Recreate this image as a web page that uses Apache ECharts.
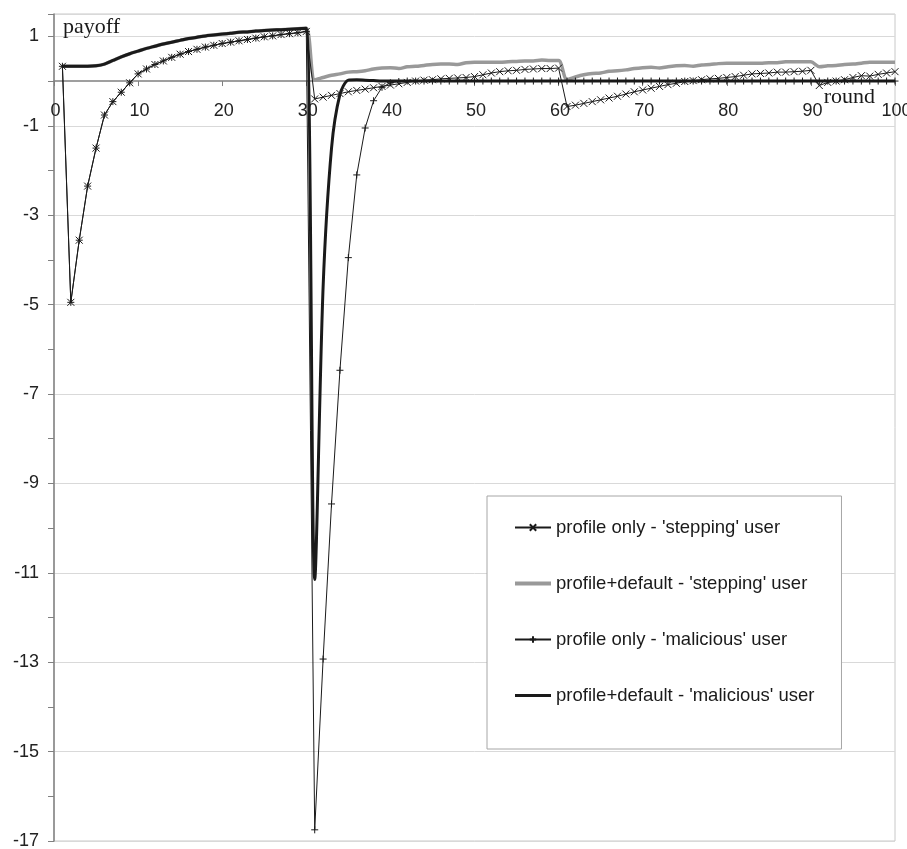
<!DOCTYPE html>
<html>
<head>
<meta charset="utf-8">
<title>payoff per round</title>
<script src="https://cdn.jsdelivr.net/npm/echarts@6/dist/echarts.min.js"></script>
<style>
  html, body { margin: 0; padding: 0; background: #fff; }
  #chart { width: 907px; height: 849px; }
</style>
</head>
<body>
<div id="chart"></div>
<script>
// Rounds 1..100 on the horizontal axis
const rounds = Array.from({ length: 100 }, (_, i) => i + 1);

// Rounds 1-30: both users behave identically
const profileOnlyFirst30 = [
  0.33, -4.95, -3.56, -2.35, -1.5, -0.76, -0.46, -0.25, -0.04, 0.16,
  0.27, 0.37, 0.45, 0.53, 0.6, 0.66, 0.71, 0.76, 0.8, 0.84,
  0.87, 0.9, 0.93, 0.96, 0.99, 1.01, 1.04, 1.06, 1.08, 1.11
];
const profileDefaultFirst30 = [
  0.33, 0.33, 0.33, 0.33, 0.34, 0.38, 0.46, 0.54, 0.61, 0.67,
  0.73, 0.78, 0.83, 0.87, 0.91, 0.95, 0.98, 1.01, 1.03, 1.05,
  1.07, 1.09, 1.1, 1.12, 1.13, 1.14, 1.15, 1.16, 1.17, 1.18
];

// Rounds 31-100, 'stepping' user, profile only
const steppingProfileOnlyRest = [
  -0.4, -0.36, -0.32, -0.28, -0.24, -0.21, -0.18, -0.15, -0.12, -0.09,
  -0.06, -0.03, 0.0, 0.02, 0.03, 0.05, 0.06, 0.07, 0.08, 0.1,
  0.14, 0.18, 0.21, 0.23, 0.24, 0.26, 0.27, 0.28, 0.28, 0.29,
  -0.57, -0.54, -0.5, -0.46, -0.42, -0.38, -0.34, -0.29, -0.24, -0.2,
  -0.16, -0.12, -0.08, -0.05, -0.01, 0.01, 0.03, 0.05, 0.06, 0.08,
  0.1, 0.13, 0.16, 0.17, 0.18, 0.2, 0.2, 0.21, 0.22, 0.24,
  -0.1, -0.03, 0.0, 0.03, 0.08, 0.12, 0.11, 0.15, 0.18, 0.21
];

// Rounds 31-100, 'stepping' user, profile + default
const steppingProfileDefaultRest = [
  0.03, 0.08, 0.13, 0.16, 0.2, 0.21, 0.23, 0.27, 0.29, 0.3,
  0.28, 0.32, 0.33, 0.35, 0.37, 0.38, 0.38, 0.37, 0.41, 0.42,
  0.42, 0.42, 0.42, 0.43, 0.44, 0.45, 0.45, 0.47, 0.46, 0.46,
  0.03, 0.09, 0.14, 0.17, 0.18, 0.22, 0.23, 0.25, 0.28, 0.3,
  0.31, 0.29, 0.32, 0.34, 0.35, 0.33, 0.36, 0.37, 0.39, 0.4,
  0.4, 0.4, 0.4, 0.4, 0.41, 0.41, 0.43, 0.43, 0.43, 0.43,
  0.32, 0.34, 0.35, 0.37, 0.38, 0.4, 0.42, 0.42, 0.42, 0.42
];

// Rounds 31-100, 'malicious' user, profile only
const maliciousProfileOnlyRest = [
  -16.75, -12.93, -9.46, -6.47, -3.95, -2.1, -1.05, -0.44, -0.14, -0.04,
  -0.01, 0, 0, 0, 0, 0, 0, 0, 0, 0,
  0, 0, 0, 0, 0, 0, 0, 0, 0, 0,
  0, 0, 0, 0, 0, 0, 0, 0, 0, 0,
  0, 0, 0, 0, 0, 0, 0, 0, 0, 0,
  0, 0, 0, 0, 0, 0, 0, 0, 0, 0,
  0, 0, 0, 0, 0, 0, 0, 0, 0, 0
];

// Rounds 31-100, 'malicious' user, profile + default
const maliciousProfileDefaultRest = [
  -11.15, -4.6, -1.5, -0.3, 0.02, 0.03, 0.02, 0.01, 0, 0,
  0, 0, 0, 0, 0, 0, 0, 0, 0, 0,
  0, 0, 0, 0, 0, 0, 0, 0, 0, 0,
  0, 0, 0, 0, 0, 0, 0, 0, 0, 0,
  0, 0, 0, 0, 0, 0, 0, 0, 0, 0,
  0, 0, 0, 0, 0, 0, 0, 0, 0, 0,
  0, 0, 0, 0, 0, 0, 0, 0, 0, 0
];

const seriesNames = [
  "profile only - 'stepping' user",
  "profile+default - 'stepping' user",
  "profile only - 'malicious' user",
  "profile+default - 'malicious' user"
];

// Axis extents
const X_MIN = 0, X_MAX = 100, X_STEP = 10;
const Y_MIN = -17, Y_MAX = 1.5, Y_STEP = 2;

const steppingProfileOnly = profileOnlyFirst30.concat(steppingProfileOnlyRest);
const steppingProfileDefault = profileDefaultFirst30.concat(steppingProfileDefaultRest);
const maliciousProfileOnly = profileOnlyFirst30.concat(maliciousProfileOnlyRest);
const maliciousProfileDefault = profileDefaultFirst30.concat(maliciousProfileDefaultRest);

const pairs = vals => rounds.map((r, i) => [r, vals[i]]);

const SANS = "'Liberation Sans', Arial, sans-serif";
const SERIF = "'Liberation Serif', 'Times New Roman', serif";
const INK = '#1a1a1a';
const GREY = '#999999';
const CROSS = 'path://M0,0L10,10M10,0L0,10';
const PLUS = 'path://M5,0L5,10M0,5L10,5';

// Plot box in pixels
const GRID = { left: 54, top: 14, right: 12, bottom: 8 };
const plotHeight = 849 - GRID.top - GRID.bottom;
// The round axis sits on payoff = 0, inside the plot
const zeroOffset = plotHeight * (Y_MAX - 0) / (Y_MAX - Y_MIN);

const chart = echarts.init(document.getElementById('chart'), null, { renderer: 'canvas' });

chart.setOption({
  animation: false,
  backgroundColor: '#ffffff',
  textStyle: { fontFamily: SANS },
  grid: Object.assign({
    show: true, borderColor: '#c8c8c8', borderWidth: 1, backgroundColor: 'transparent',
    containLabel: false, outerBoundsMode: 'none'
  }, GRID),
  legend: {
    data: [
      { name: seriesNames[0] },
      { name: seriesNames[1], itemStyle: { opacity: 0 }, lineStyle: { width: 4, color: GREY } },
      { name: seriesNames[2] },
      { name: seriesNames[3], itemStyle: { opacity: 0 }, lineStyle: { width: 3, color: INK } }
    ],
    orient: 'vertical',
    left: 487, top: 496,
    itemWidth: 36, itemHeight: 8, itemGap: 37,
    padding: [22, 27, 44, 26],
    borderColor: '#a6a6a6', borderWidth: 1,
    backgroundColor: '#ffffff',
    selectedMode: false,
    textStyle: { fontSize: 18.5, color: INK, fontFamily: SANS }
  },
  xAxis: {
    type: 'value',
    position: 'top',
    offset: -zeroOffset,
    min: X_MIN, max: X_MAX, interval: X_STEP,
    name: 'round',
    nameLocation: 'end',
    nameGap: -20,
    nameMoveOverlap: false,
    nameTextStyle: {
      fontFamily: SERIF, fontSize: 22, color: INK,
      align: 'right', verticalAlign: 'top', padding: [5, 0, 0, 0]
    },
    axisLine: { onZero: false, lineStyle: { color: '#808080', width: 1.5 } },
    axisTick: { show: true, inside: true, length: 5, lineStyle: { color: '#808080' } },
    axisLabel: {
      inside: true, fontSize: 18, color: '#222', margin: 21, fontFamily: SANS,
      hideOverlap: false, padding: [0, 0, 0, 3]
    },
    splitLine: { show: false }
  },
  yAxis: {
    type: 'value',
    min: Y_MIN, max: Y_MAX, interval: Y_STEP,
    name: 'payoff',
    nameLocation: 'end',
    nameGap: -13,
    nameMoveOverlap: false,
    nameTextStyle: {
      fontFamily: SERIF, fontSize: 22, color: INK,
      align: 'left', verticalAlign: 'middle', padding: [0, 0, 0, 9]
    },
    axisLine: { show: true, lineStyle: { color: '#808080', width: 1.5 } },
    axisTick: { show: true, length: 6, lineStyle: { color: '#808080' } },
    minorTick: { show: true, splitNumber: 2, length: 6, lineStyle: { color: '#808080' } },
    axisLabel: { fontSize: 18, color: '#222', margin: 15, showMaxLabel: false, fontFamily: SANS },
    splitLine: { show: true, lineStyle: { color: '#d9d9d9', width: 1 } }
  },
  series: [
    {
      name: seriesNames[1],
      type: 'line',
      data: pairs(steppingProfileDefault),
      smooth: 0.3,
      symbol: 'none',
      z: 2,
      lineStyle: { color: GREY, width: 3.5 },
      itemStyle: { color: GREY },
      emphasis: { disabled: true }
    },
    {
      name: seriesNames[3],
      type: 'line',
      data: pairs(maliciousProfileDefault),
      smooth: 0.3,
      symbol: 'none',
      z: 3,
      lineStyle: { color: INK, width: 3 },
      itemStyle: { color: INK },
      emphasis: { disabled: true }
    },
    {
      name: seriesNames[2],
      type: 'line',
      data: pairs(maliciousProfileOnly),
      symbol: PLUS,
      symbolSize: 7,
      showAllSymbol: true,
      z: 4,
      lineStyle: { color: INK, width: 1 },
      itemStyle: { color: INK, borderColor: INK, borderWidth: 1 },
      emphasis: { disabled: true }
    },
    {
      name: seriesNames[0],
      type: 'line',
      data: pairs(steppingProfileOnly),
      symbol: CROSS,
      symbolSize: 7,
      showAllSymbol: true,
      z: 5,
      lineStyle: { color: INK, width: 1 },
      itemStyle: { color: INK, borderColor: INK, borderWidth: 1 },
      emphasis: { disabled: true }
    }
  ]
});
</script>
</body>
</html>
